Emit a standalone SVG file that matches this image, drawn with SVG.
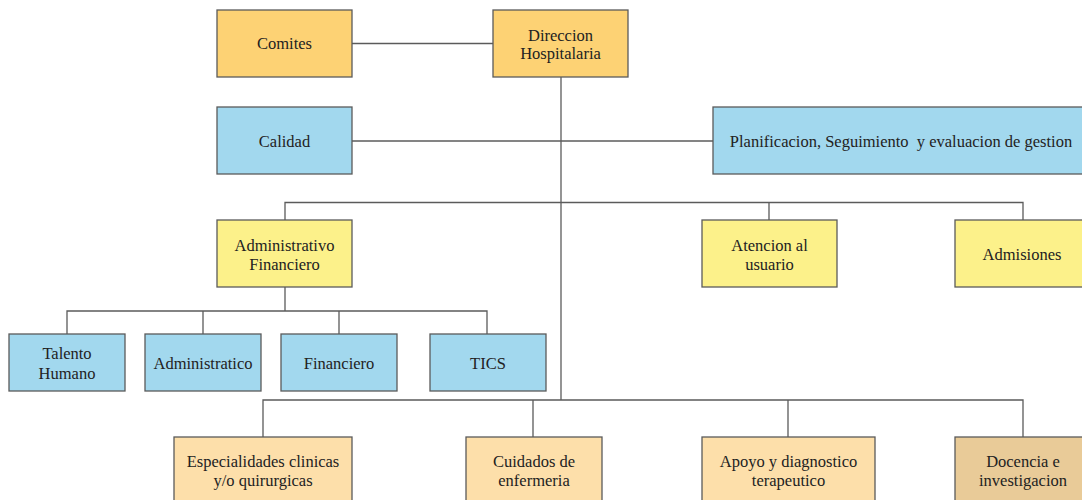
<svg xmlns="http://www.w3.org/2000/svg" width="1082" height="500" viewBox="0 0 1082 500">
  <style>
    .box { stroke: #5b5b5b; stroke-width: 1.3; }
    .orange { fill: #FDD274; }
    .blue { fill: #A2D8EE; }
    .yellow { fill: #FCF18A; }
    .peach { fill: #FDDFAA; }
    .tan { fill: #E9CB98; }
    text { font-family: "Liberation Serif", "Times New Roman", serif; font-size: 16.5px; fill: #222; text-anchor: middle; dominant-baseline: central; }
    .wire { fill: none; stroke: #5b5b5b; stroke-width: 1.3; }
  </style>
  <rect width="1082" height="500" fill="#ffffff"/>

  <!-- connectors -->
  <g id="connectors" class="wire">
    <path d="M352 43.5H493"/>
    <path d="M561 77V400"/>
    <path d="M352 141H713"/>
    <path d="M285 220V202.5H1023V220M769 202.5V220"/>
    <path d="M285 287V311M67 334V311H487V334M203 311V334M339 311V334"/>
    <path d="M263 437V400H1023V437M533 400V437M788 400V437"/>
  </g>

  <g id="comites"><rect class="box orange" x="217" y="10" width="135" height="67"/><text x="284.5" y="43.5">Comites</text></g>
  <g id="direccion"><rect class="box orange" x="493" y="10" width="135" height="67"/><text x="560.5" y="35">Direccion</text><text x="560.5" y="53">Hospitalaria</text></g>

  <g id="calidad"><rect class="box blue" x="217" y="107" width="135" height="67"/><text x="284.5" y="141">Calidad</text></g>
  <g id="planificacion"><rect class="box blue" x="713" y="107" width="377" height="67"/><text x="901" y="141" xml:space="preserve" style="white-space:pre">Planificacion, Seguimiento  y evaluacion de gestion</text></g>

  <g id="adm-financiero"><rect class="box yellow" x="217" y="220" width="135" height="67"/><text x="284.5" y="245">Administrativo</text><text x="284.5" y="264">Financiero</text></g>
  <g id="atencion"><rect class="box yellow" x="702" y="220" width="135" height="67"/><text x="769.5" y="245">Atencion al</text><text x="769.5" y="264">usuario</text></g>
  <g id="admisiones"><rect class="box yellow" x="955" y="220" width="136" height="67"/><text x="1022" y="254">Admisiones</text></g>

  <g id="talento"><rect class="box blue" x="9" y="334" width="116" height="57"/><text x="67" y="353">Talento</text><text x="67" y="373">Humano</text></g>
  <g id="administratico"><rect class="box blue" x="145" y="334" width="116" height="57"/><text x="203" y="363">Administratico</text></g>
  <g id="financiero"><rect class="box blue" x="281" y="334" width="116" height="57"/><text x="339" y="363">Financiero</text></g>
  <g id="tics"><rect class="box blue" x="430" y="334" width="116" height="57"/><text x="488" y="363">TICS</text></g>

  <g id="especialidades"><rect class="box peach" x="174" y="437" width="178" height="80"/><text x="263" y="461">Especialidades clinicas</text><text x="263" y="480">y/o quirurgicas</text></g>
  <g id="cuidados"><rect class="box peach" x="466" y="437" width="136" height="80"/><text x="534" y="461">Cuidados de</text><text x="534" y="480">enfermeria</text></g>
  <g id="apoyo"><rect class="box peach" x="702" y="437" width="173" height="80"/><text x="788.5" y="461">Apoyo y diagnostico</text><text x="788.5" y="480">terapeutico</text></g>
  <g id="docencia"><rect class="box tan" x="955" y="437" width="136" height="80"/><text x="1023" y="461">Docencia e</text><text x="1023" y="480">investigacion</text></g>
</svg>
